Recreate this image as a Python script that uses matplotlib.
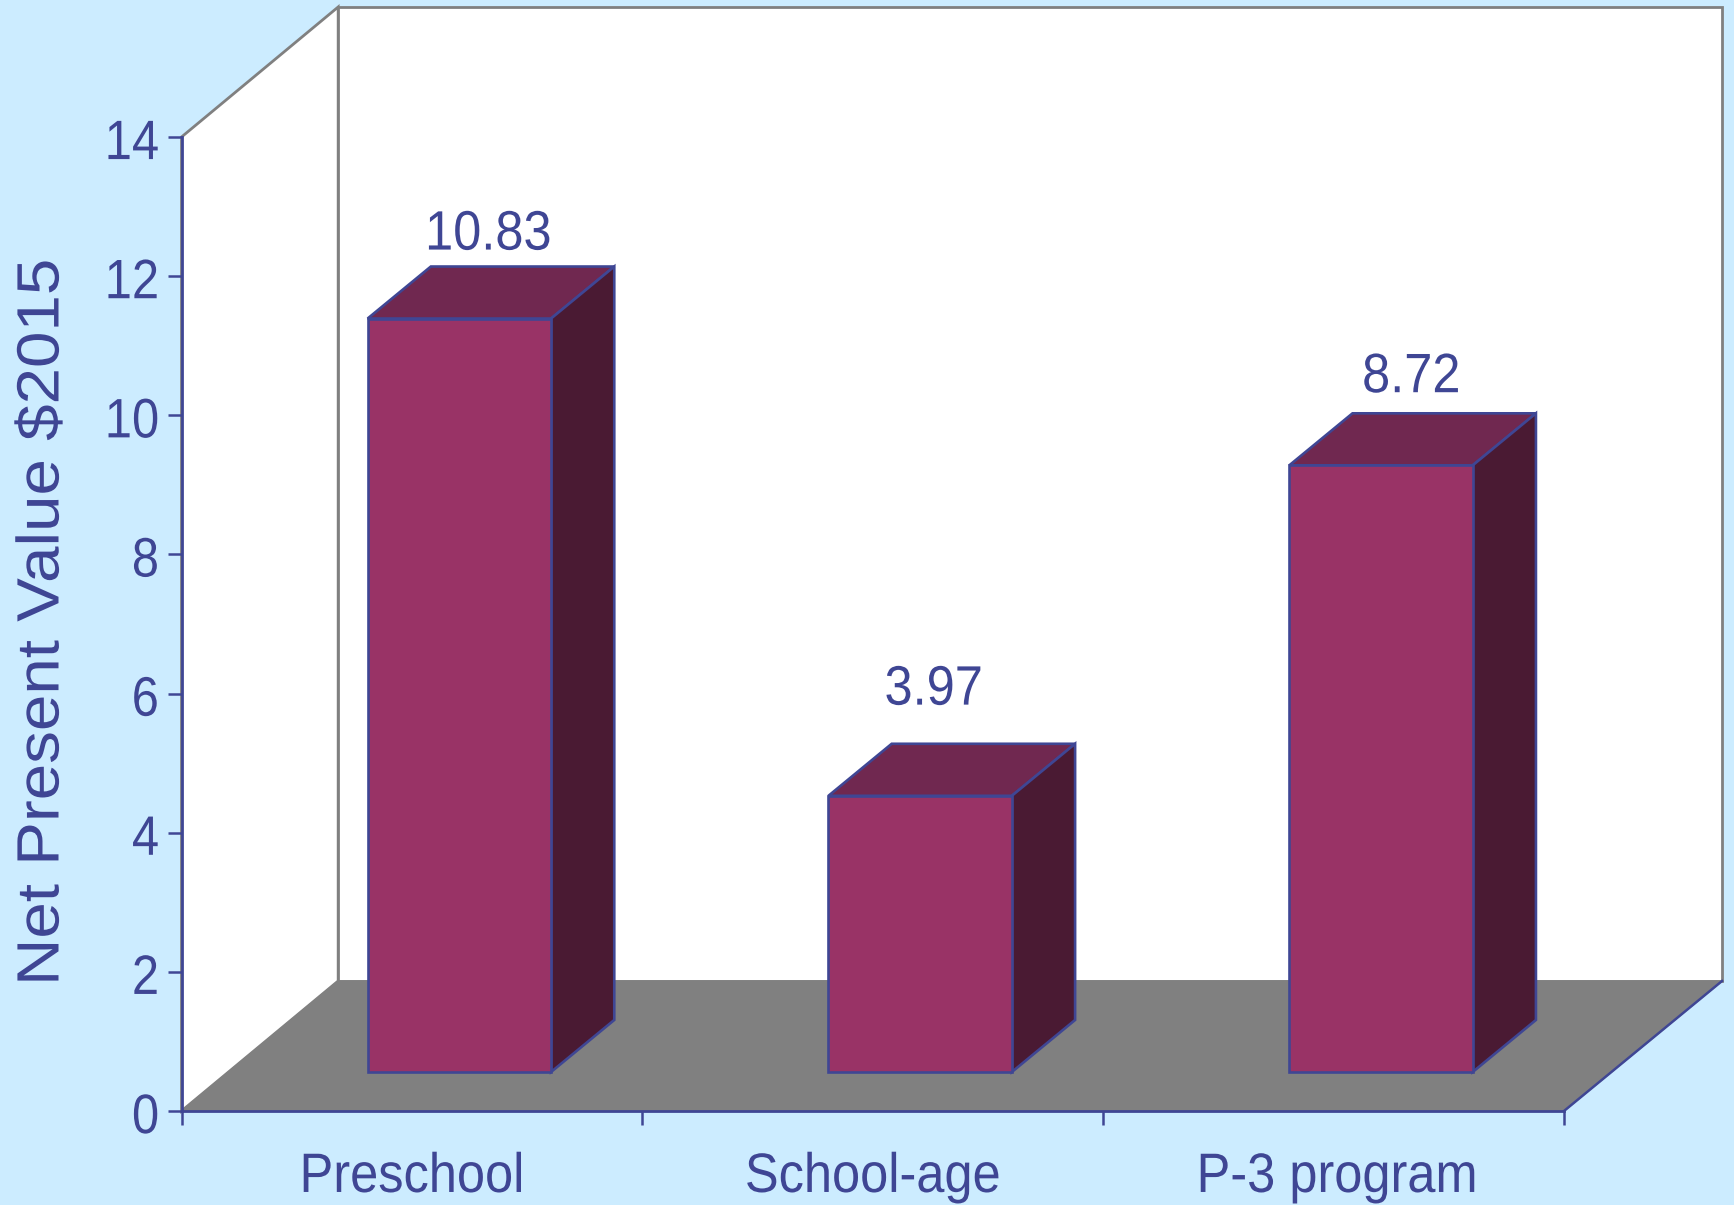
#Net present value per program, drawn as an oblique 3D column chart.

import numpy as np
import matplotlib
matplotlib.use("Agg")
import matplotlib.pyplot as plt
from matplotlib.patches import Polygon
from matplotlib.patheffects import AbstractPathEffect
from matplotlib.transforms import Affine2D, ScaledTranslation

programs = ["Preschool", "School-age", "P-3 program"]
npv = [10.83, 3.97, 8.72]
y_ticks = [0, 2, 4, 6, 8, 10, 12, 14]

BG = "#CCECFF"
INK = "#3F4694"
GREY = "#808080"
FRONT = "#993366"
TOP = "#702850"
SIDE = "#4A1A33"

plt.rcParams['font.family'] = ['Liberation Sans', 'DejaVu Sans']


class Stretch(AbstractPathEffect):
    # scales glyphs along the text direction, about the left, centre or right of the string
    def __init__(self, sx, anchor=0.5):
        super().__init__()
        self.sx = sx
        self.anchor = anchor

    def draw_path(self, renderer, gc, tpath, affine, rgbFace=None):
        box = tpath.get_extents()
        cx = box.x0 + self.anchor * box.width
        scale = Affine2D().translate(-cx, 0).scale(self.sx, 1).translate(cx, 0)
        renderer.draw_path(gc, tpath, scale + affine, rgbFace)


def main():
    fig = plt.figure(figsize=(17.34, 12.05), dpi=100, facecolor=BG)
    ax = fig.add_axes([181.5 / 1734, 94 / 1205, 1382.5 / 1734, 974 / 1205])
    ax.set_xlim(0, 3)
    ax.set_ylim(0, 14)
    ax.patch.set_visible(False)

    # depth of the box in data units
    dx = 0.34
    dy = 1.869

    def face(pts, color, edge, lw, z):
        ax.add_patch(Polygon(pts, closed=True, facecolor=color, edgecolor=edge,
                             linewidth=lw, zorder=z, clip_on=False, joinstyle='miter'))

    # walls and floor
    face([(0, 0), (0, 14), (dx, 14 + dy), (dx, dy)], "white", GREY, 2, 0.5)
    face([(dx, dy), (dx, 14 + dy), (3 + 0.343, 14 + dy), (3 + 0.343, dy)], "white", GREY, 2, 0.6)
    face([(0, 0), (3, 0), (3 + 0.343, dy), (dx, dy)], GREY, GREY, 1, 0.7)
    ax.plot([3, 3 + 0.343], [0, dy], color=INK, lw=1.8, zorder=0.8, clip_on=False)

    # columns sit in the middle of the floor depth
    x = np.arange(len(npv)) + 0.5 + 0.3 * 0.343
    bars = ax.bar(x, npv, width=0.398, bottom=0.3 * dy, color=FRONT, edgecolor=INK,
                  linewidth=1.9, zorder=3, clip_on=False)

    # label offsets from the centre of each column top, in points
    offsets = [(-2, 41), (-13, 57), (-1, 44)]
    for bar, val, off in zip(bars, npv, offsets):
        x0 = bar.get_x()
        x1 = x0 + bar.get_width()
        y0 = bar.get_y()
        y1 = y0 + bar.get_height()
        ddx = 0.4 * 0.343
        ddy = 0.4 * dy
        face([(x0, y1), (x1, y1), (x1 + ddx, y1 + ddy), (x0 + ddx, y1 + ddy)], TOP, INK, 1.9, 2)
        face([(x1, y0), (x1 + ddx, y0 + ddy), (x1 + ddx, y1 + ddy), (x1, y1)], SIDE, INK, 1.9, 2)
        ax.annotate("{:.2f}".format(val), ((x0 + x1 + ddx) / 2, y1 + ddy / 2),
                    xytext=off, textcoords='offset points', ha='center', va='center',
                    color=INK, fontsize=40, annotation_clip=False,
                    path_effects=[Stretch(0.91)])

    for side in ['top', 'right']:
        ax.spines[side].set_visible(False)
    for side in ['left', 'bottom']:
        ax.spines[side].set_color(INK)
        ax.spines[side].set_linewidth(2)
        ax.spines[side].set_zorder(1)

    ax.set_yticks(y_ticks)
    ax.tick_params(axis='y', colors=INK, labelsize=40, length=10, width=1.8, pad=6)
    ax.set_xticks([0, 1, 2, 3])
    ax.set_xticklabels([])
    ax.tick_params(axis='x', which='major', colors=INK, length=10, width=1.8)
    ax.set_xticks([0.5, 1.5, 2.5], labels=programs, minor=True)
    ax.tick_params(axis='x', which='minor', colors=INK, labelsize=40, length=0, pad=29.5)

    for label in ax.get_yticklabels():
        label.set_path_effects([Stretch(0.88, anchor=1.0)])
        label.set_transform(label.get_transform()
                            + ScaledTranslation(0, -1.5 / 72, fig.dpi_scale_trans))
    for label in ax.get_xticklabels(minor=True):
        label.set_path_effects([Stretch(0.91)])
    last = ax.get_xticklabels(minor=True)[-1]
    last.set_transform(last.get_transform()
                       + ScaledTranslation(2.4 / 72, 0, fig.dpi_scale_trans))

    fig.text(43 / 1734, 1 - 622 / 1205, "Net Present Value $2015", rotation=90,
             ha='center', va='center', color=INK, fontsize=43,
             path_effects=[Stretch(1.097)])

    fig.savefig("out.png", dpi=100, facecolor=BG)


if __name__ == "__main__":
    main()
